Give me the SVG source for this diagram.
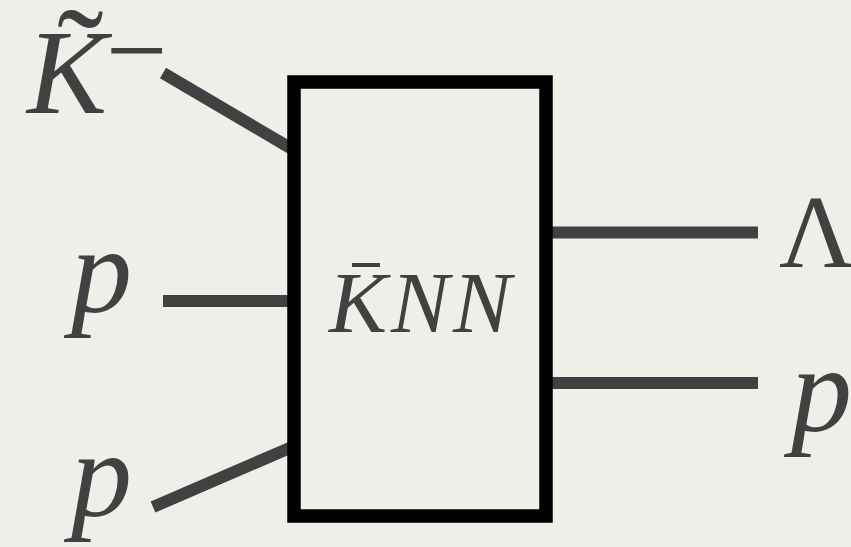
<svg xmlns="http://www.w3.org/2000/svg" width="851" height="547" viewBox="0 0 851 547">
  <style>
    .leg { stroke: #414141; stroke-width: 12; stroke-linecap: butt; fill: none; }
    .sym { font-family: "Liberation Serif", "Times New Roman", serif; fill: #414141; }
    .it { font-style: italic; }
  </style>
  <rect x="0" y="0" width="851" height="547" fill="#f0eee9"/>

  <!-- external legs -->
  <g id="connectors">
    <line class="leg" x1="163" y1="73" x2="292" y2="149"/>
    <line class="leg" x1="163" y1="301" x2="294" y2="301"/>
    <line class="leg" x1="153" y1="507" x2="292" y2="447"/>
    <line class="leg" x1="546" y1="232.5" x2="758" y2="232.5"/>
    <line class="leg" x1="546" y1="383" x2="758" y2="383"/>
  </g>

  <!-- interaction block -->
  <g id="knn-block">
    <rect x="294" y="82" width="252" height="434" fill="none" stroke="#000" stroke-width="13.5"/>
    <text class="sym it" x="329" y="332" font-size="87" textLength="182" lengthAdjust="spacing">KNN</text>
    <rect x="352" y="263" width="28" height="4" fill="#414141"/>
  </g>

  <g id="kaon-in">
    <text class="sym it" x="27" y="113" font-size="120">K</text>
    <text class="sym" x="57" y="104" font-size="140">˜</text>
    <text class="sym" x="106" y="87" font-size="109">−</text>
  </g>

  <g id="proton-in-1">
    <text class="sym it" x="71" y="312" font-size="122">p</text>
  </g>

  <g id="proton-in-2">
    <text class="sym it" x="71" y="516" font-size="122">p</text>
  </g>

  <g id="lambda-out">
    <text class="sym" x="779" y="267" font-size="104">Λ</text>
  </g>

  <g id="proton-out">
    <text class="sym it" x="791" y="431" font-size="122">p</text>
  </g>
</svg>
